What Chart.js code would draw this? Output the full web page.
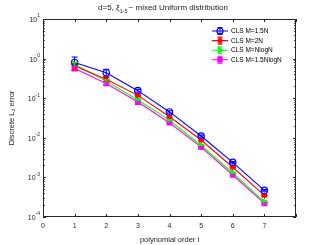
<!DOCTYPE html>
<html>
<head>
  <meta charset="UTF-8">
  <title>Discrete L2 error</title>
  <script src="https://cdn.jsdelivr.net/npm/chart.js"></script>
  <style>
    body { margin: 0; background: #fff; }
    #wrap { width: 327px; height: 245px; }
  </style>
</head>
<body>
  <div id="wrap"><canvas id="myChart"></canvas></div>
  <script>
    const orders = [1, 2, 3, 4, 5, 6, 7];
    const labels = ['CLS M=1.5N', 'CLS M=2N', 'CLS M=NlogN', 'CLS M=1.5NlogN'];
    const err15N = [0.80, 0.44, 0.155, 0.045, 0.0111, 0.0024, 0.00047];
    const err2N = [0.65, 0.30, 0.118, 0.034, 0.0088, 0.0018, 0.00035];
    const errNlogN = [0.72, 0.27, 0.090, 0.028, 0.0064, 0.0013, 0.00024];
    const err15NlogN = [0.56, 0.235, 0.080, 0.024, 0.0058, 0.00115, 0.00022];
    // error bar half widths
    const bar15N = [0.30, 0.10, 0.012, 0.003, 0.0006, 0.0001, 0.00002];
    const bar2N = [0.12, 0.05, 0.008, 0.002, 0.0004, 0.0001, 0.00002];
    const barNlogN = [0.08, 0.02, 0.005, 0.001, 0.0002, 0.00005, 0.00001];
    const bar15NlogN = [0.06, 0.02, 0.004, 0.001, 0.0002, 0.00005, 0.00001];
    const yPowers = [1, 0, -1, -2, -3, -4];
    const xTicks = [0, 1, 2, 3, 4, 5, 6, 7, 8];
    const titleParts = [['d=5, ξ', 0], ['1-5', 1], ['~ mixed Uniform distribution', 0]];

    const colors = ['#0000ff', '#ff0000', '#00ff00', '#ff00ff'];
    const series = [err15N, err2N, errNlogN, err15NlogN];
    const bars = [bar15N, bar2N, barNlogN, bar15NlogN];
    const styles = ['circle', 'star', 'triangle', 'rect'];
    const fills = ['rgba(0,0,0,0)', '#ff0000', '#00ff00', '#ff00ff'];
    const FONT = '"Liberation Sans", Arial, sans-serif';

    const datasets = series.map((s, i) => ({
      label: labels[i],
      data: orders.map((x, j) => ({ x: x, y: s[j] })),
      borderColor: colors[i],
      backgroundColor: fills[i],
      borderWidth: 1.1,
      pointStyle: styles[i],
      pointRotation: i === 2 ? 90 : 0,
      pointRadius: 3.2,
      pointBorderWidth: 1.2,
      pointBorderColor: colors[i],
      pointBackgroundColor: fills[i],
      errs: bars[i]
    }));

    const axisColor = '#262626';

    const decor = {
      id: 'decor',
      afterDatasetsDraw(chart) {
        const c = chart.ctx;
        const xs = chart.scales.x, ys = chart.scales.y;
        // error bars
        chart.data.datasets.forEach(ds => {
          c.save();
          c.strokeStyle = ds.borderColor;
          c.lineWidth = 1.1;
          ds.data.forEach((p, j) => {
            const e = ds.errs[j];
            const px = xs.getPixelForValue(p.x);
            const top = ys.getPixelForValue(p.y + e);
            const bot = ys.getPixelForValue(Math.max(p.y - e, 1e-5));
            c.beginPath();
            c.moveTo(px, top); c.lineTo(px, bot);
            c.moveTo(px - 3, top); c.lineTo(px + 3, top);
            c.moveTo(px - 3, bot); c.lineTo(px + 3, bot);
            c.stroke();
          });
          c.restore();
        });
      },
      afterDraw(chart) {
        const c = chart.ctx, a = chart.chartArea;
        const xs = chart.scales.x, ys = chart.scales.y;
        c.save();
        c.strokeStyle = axisColor;
        c.lineWidth = 1;
        c.strokeRect(a.left + 0.5, a.top + 0.5, a.right - a.left - 1, a.bottom - a.top - 1);
        c.beginPath();
        xTicks.forEach(v => {
          const px = Math.round(xs.getPixelForValue(v)) + 0.5;
          c.moveTo(px, a.bottom); c.lineTo(px, a.bottom - 3);
          c.moveTo(px, a.top); c.lineTo(px, a.top + 3);
        });
        for (let k = -4; k <= 1; k++) {
          for (let m = 1; m <= 9; m++) {
            const v = m * Math.pow(10, k);
            if (v > 10 || (m > 1 && k === 1)) continue;
            const py = Math.round(ys.getPixelForValue(v)) + 0.5;
            const len = m === 1 ? 3 : 1.8;
            c.moveTo(a.left, py); c.lineTo(a.left + len, py);
            c.moveTo(a.right, py); c.lineTo(a.right - len, py);
          }
        }
        c.stroke();
        // y tick labels 10^k
        c.fillStyle = axisColor;
        c.textBaseline = 'middle';
        yPowers.forEach(k => {
          const py = ys.getPixelForValue(Math.pow(10, k));
          const exp = String(k);
          c.font = '5px ' + FONT;
          const ew = c.measureText(exp).width;
          c.font = '7px ' + FONT;
          const bw = c.measureText('10').width;
          const right = a.left - 3;
          c.textAlign = 'left';
          c.fillText('10', right - ew - bw, py + 1);
          c.font = '5px ' + FONT;
          c.fillText(exp, right - ew, py - 3);
        });
        // title with subscript
        const fontFor = sub => (sub ? '5.5px ' : '8px ') + FONT;
        let tw = 0;
        titleParts.forEach(([t, sub]) => { c.font = fontFor(sub); tw += c.measureText(t).width + (sub ? 1 : 0); });
        let tx = 163 - tw / 2;
        c.fillStyle = '#222';
        c.textAlign = 'left';
        c.textBaseline = 'alphabetic';
        titleParts.forEach(([t, sub]) => {
          c.font = fontFor(sub);
          c.fillText(t, tx, sub ? 13 : 10);
          tx += c.measureText(t).width + (sub ? 1 : 0);
        });
        // legend
        const lx = 212, lw = 16;
        labels.forEach((t, i) => {
          const ly = 31 + i * 9.6;
          const ds = chart.data.datasets[i];
          c.strokeStyle = ds.borderColor;
          c.lineWidth = 1.1;
          c.beginPath();
          c.moveTo(lx, ly); c.lineTo(lx + lw, ly);
          c.moveTo(lx + lw / 2, ly - 3.5); c.lineTo(lx + lw / 2, ly + 3.5);
          c.moveTo(lx + lw / 2 - 2.5, ly - 3.5); c.lineTo(lx + lw / 2 + 2.5, ly - 3.5);
          c.moveTo(lx + lw / 2 - 2.5, ly + 3.5); c.lineTo(lx + lw / 2 + 2.5, ly + 3.5);
          c.stroke();
          c.fillStyle = ds.backgroundColor;
          c.strokeStyle = ds.borderColor;
          c.lineWidth = 1.2;
          Chart.helpers.drawPoint(c, {
            pointStyle: ds.pointStyle, rotation: ds.pointRotation,
            radius: 3, borderWidth: 1.2
          }, lx + lw / 2, ly);
          c.fillStyle = '#000';
          c.font = '6.5px ' + FONT;
          c.textAlign = 'left';
          c.textBaseline = 'middle';
          c.fillText(t, lx + lw + 3, ly + 0.5);
        });
        c.restore();
      }
    };

    const ctx = document.getElementById('myChart').getContext('2d');
    const chart = new Chart(ctx, {
      type: 'line',
      data: { datasets: datasets },
      options: {
        responsive: true,
        maintainAspectRatio: false,
        animation: false,
        layout: { padding: { left: 0, right: 31, top: 19, bottom: 0 } },
        plugins: {
          legend: { display: false },
          tooltip: { enabled: false },
          title: { display: false }
        },
        scales: {
          x: {
            type: 'linear', min: 0, max: 8,
            afterBuildTicks: s => { s.ticks = xTicks.map(v => ({ value: v })); },
            afterFit: s => { s.height = 28; },
            grid: { display: false, drawTicks: false },
            border: { display: false },
            ticks: {
              color: axisColor, padding: 5,
              font: { family: FONT, size: 7 },
              callback: v => (v === 8 ? '' : String(v))
            },
            title: {
              display: true, text: 'polynomial order i', color: '#222',
              font: { family: FONT, size: 7.5 }, padding: { top: 0, bottom: 1 }
            }
          },
          y: {
            type: 'logarithmic', min: 1e-4, max: 10,
            afterFit: s => { s.width = 43; },
            grid: { display: false, drawTicks: false },
            border: { display: false },
            ticks: { display: false },
            title: {
              display: true, text: 'Discrete L₂ error', color: '#222',
              font: { family: FONT, size: 7.5 }, padding: { top: 7, bottom: 0 }
            }
          }
        }
      },
      plugins: [decor]
    });
  </script>
</body>
</html>
